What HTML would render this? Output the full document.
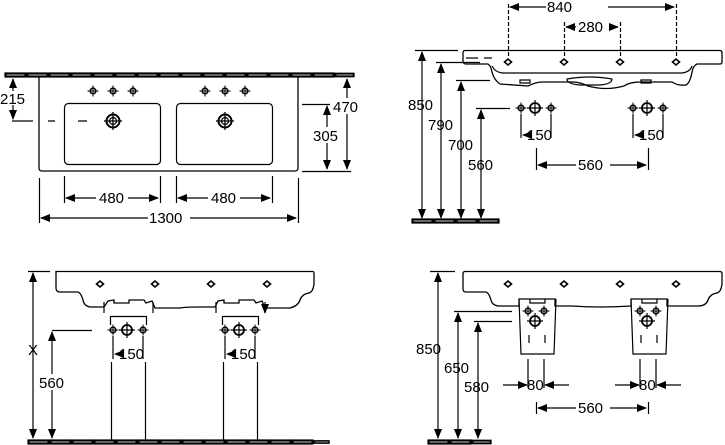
<!DOCTYPE html>
<html><head><meta charset="utf-8"><style>
html,body{margin:0;padding:0;background:#fff;}
svg{display:block;}
text{font-family:"Liberation Sans",Arial,sans-serif;font-size:15px;fill:#000;}
</style></head><body>
<svg width="725" height="445" viewBox="0 0 725 445" xmlns="http://www.w3.org/2000/svg">
<defs>
<marker id="a" markerUnits="userSpaceOnUse" markerWidth="10" markerHeight="8" refX="9" refY="4" orient="auto-start-reverse"><path d="M0,0 L10,4 L0,8 z" fill="#000"/></marker>
<symbol id="s" viewBox="-6 -6 12 12" overflow="visible"><circle r="2.8" fill="none" stroke="#000" stroke-width="1.6"/><path d="M-5.5,0H5.5M0,-5.5V5.5" stroke="#000" stroke-width="1"/></symbol>
<symbol id="b" viewBox="-8 -8 16 16" overflow="visible"><circle r="5" fill="none" stroke="#000" stroke-width="1.8"/><path d="M-8,0H8M0,-8V8" stroke="#000" stroke-width="1.2"/></symbol>
<symbol id="d" viewBox="-9 -9 18 18" overflow="visible"><circle r="6.5" fill="none" stroke="#000" stroke-width="2"/><circle r="3.5" fill="none" stroke="#000" stroke-width="1.2"/><path d="M-9,0H9M0,-9V9" stroke="#000" stroke-width="1.3"/></symbol>
<symbol id="h" viewBox="-4 -4 8 8" overflow="visible"><path d="M-3.5,0L0,-3L3.5,0L0,3z" fill="none" stroke="#000" stroke-width="1.6"/></symbol>
<symbol id="fl" viewBox="0 0 22 4" overflow="visible"><rect x="0" y="0" width="21" height="4" fill="#000"/><rect x="1" y="1" width="19" height="2" fill="#fff"/></symbol>
</defs>
<g stroke="#000" fill="none" stroke-width="1.2">
<!-- ============ TOP LEFT ============ -->
<g>
<use href="#fl" x="5" y="73" width="22" height="4"/><use href="#fl" x="27" y="73" width="22" height="4"/><use href="#fl" x="49" y="73" width="22" height="4"/><use href="#fl" x="71" y="73" width="22" height="4"/><use href="#fl" x="93" y="73" width="22" height="4"/><use href="#fl" x="115" y="73" width="22" height="4"/><use href="#fl" x="137" y="73" width="22" height="4"/><use href="#fl" x="159" y="73" width="22" height="4"/><use href="#fl" x="181" y="73" width="22" height="4"/><use href="#fl" x="203" y="73" width="22" height="4"/><use href="#fl" x="225" y="73" width="22" height="4"/><use href="#fl" x="247" y="73" width="22" height="4"/><use href="#fl" x="269" y="73" width="22" height="4"/><use href="#fl" x="291" y="73" width="22" height="4"/><use href="#fl" x="313" y="73" width="22" height="4"/><use href="#fl" x="335" y="73" width="20" height="4"/>
</g>
<path d="M39,77 V168 Q39,171 42,171 H295 Q298,171 298,168 V77" stroke-width="1.3"/>
<rect x="64.5" y="103.5" width="96" height="61" rx="4"/>
<rect x="176.5" y="103.5" width="96" height="61" rx="4"/>
<use href="#s" x="87" y="85" width="12" height="12"/><use href="#s" x="107" y="85" width="12" height="12"/><use href="#s" x="127" y="85" width="12" height="12"/>
<use href="#s" x="199" y="85" width="12" height="12"/><use href="#s" x="219" y="85" width="12" height="12"/><use href="#s" x="239" y="85" width="12" height="12"/>
<use href="#d" x="104" y="112" width="18" height="18"/><use href="#d" x="216" y="112" width="18" height="18"/>
<path d="M13,79 V119" marker-start="url(#a)" marker-end="url(#a)"/>
<path d="M12,121H33M48,121H55M78,121H87"/>
<path d="M302,104.5H330M302,171.5H351"/>
<path d="M327,106V169" marker-start="url(#a)" marker-end="url(#a)"/>
<path d="M347,79V169" marker-start="url(#a)" marker-end="url(#a)"/>
<path d="M64.5,176V203M160.5,176V203M176.5,176V203M272.5,176V203M39.5,178V223M298.5,178V223"/>
<path d="M66,198H96" marker-start="url(#a)"/><path d="M128,198H158" marker-end="url(#a)"/>
<path d="M178,198H208" marker-start="url(#a)"/><path d="M240,198H270" marker-end="url(#a)"/>
<path d="M41,218H148" marker-start="url(#a)"/><path d="M190,218H296" marker-end="url(#a)"/>

<!-- ============ TOP RIGHT ============ -->
<path d="M510,7H546" marker-start="url(#a)"/><path d="M608,7H674" marker-end="url(#a)"/>
<path d="M566,27H576" marker-start="url(#a)"/><path d="M612,27H618" marker-end="url(#a)"/>
<path d="M508.5,4V58M676.5,4V58M564.5,22V58M620.5,22V58" stroke-dasharray="4,2"/>
<path d="M465,50.5H720Q722,50.5 722,53V62Q722,64 720,64H697 Q693,66 692,72 Q690,83 686,85 Q678,86 672,82 H640 Q630,82 624,86 Q606,91 588,86 Q580,82 572,82 H542 Q536,82 528,86 L500,84 Q494,80 492,72 Q491,66 488,64 H466 Q463,64 463,61 V53 Q463,50.5 465,50.5z" stroke-width="1.3"/>
<path d="M492,66 Q495,72 502,73 H682 Q690,72 692,66"/>
<path d="M567,79 Q590,75 612,79 Q612,84 600,85 H580 Q567,84 567,79z"/>
<path d="M520,80h10v3h-10zM641,80h10v3h-10zM466,58h12M484,58h8"/>
<use href="#h" x="504" y="58" width="8" height="8"/><use href="#h" x="560" y="58" width="8" height="8"/><use href="#h" x="616" y="58" width="8" height="8"/><use href="#h" x="672" y="58" width="8" height="8"/>
<use href="#fl" x="412" y="219" width="22" height="4"/><use href="#fl" x="434" y="219" width="22" height="4"/><use href="#fl" x="456" y="219" width="22" height="4"/><use href="#fl" x="478" y="219" width="22" height="4"/>
<path d="M415,50.5H458M436,62.5H480M456,80.5H490M476,108.5H510"/>
<path d="M422,52V218" marker-start="url(#a)" marker-end="url(#a)"/>
<path d="M441,64V218" marker-start="url(#a)" marker-end="url(#a)"/>
<path d="M461,82V218" marker-start="url(#a)" marker-end="url(#a)"/>
<path d="M481,110V218" marker-start="url(#a)" marker-end="url(#a)"/>
<use href="#s" x="515" y="102" width="12" height="12"/><use href="#b" x="527" y="100" width="16" height="16"/><use href="#s" x="545" y="102" width="12" height="12"/>
<use href="#s" x="627" y="102" width="12" height="12"/><use href="#b" x="639" y="100" width="16" height="16"/><use href="#s" x="657" y="102" width="12" height="12"/>
<path d="M521,114V138M551,114V138M633,114V138M663,114V138"/>
<path d="M523,135H528" marker-start="url(#a)"/><path d="M635,135H640" marker-start="url(#a)"/>
<path d="M536.5,148V170M648.5,148V170"/>
<path d="M538,165H576" marker-start="url(#a)"/><path d="M610,165H646" marker-end="url(#a)"/>

<!-- ============ BOTTOM LEFT ============ -->
<path d="M56,271.5H313Q314,271.5 314,274V284Q313,292 309,293 Q302,294 300,300 Q298,306 290,308 H265 L262,301 L256,303 L254,300 H239 V303 H224 V300 L218,301 L215,307 H198 Q185,307 180,308 H155 L152,301 L146,303 L144,300 H129 V303 H114 V300 L108,301 L104,307 H90 Q84,306 83,300 Q81,293 78,292 H60 Q56,292 56,288z" stroke-width="1.3"/>
<use href="#h" x="96" y="280" width="8" height="8"/><use href="#h" x="151" y="280" width="8" height="8"/><use href="#h" x="207" y="280" width="8" height="8"/><use href="#h" x="263" y="280" width="8" height="8"/>
<path d="M104,302V313M153,302V313M216,302V313M265,302V313" marker-end="url(#a)"/>
<path d="M110.5,325V316.5H146.5V325M222.5,325V316.5H258.5V325"/>
<use href="#s" x="107" y="324" width="12" height="12"/><use href="#b" x="119" y="322" width="16" height="16"/><use href="#s" x="137" y="324" width="12" height="12"/>
<use href="#s" x="219" y="324" width="12" height="12"/><use href="#b" x="231" y="322" width="16" height="16"/><use href="#s" x="249" y="324" width="12" height="12"/>
<path d="M113,336V359M143,336V359M225,336V359M255,336V359"/>
<path d="M115,354H120" marker-start="url(#a)"/><path d="M227,354H232" marker-start="url(#a)"/>
<path d="M111.5,362V440M145.5,362V440M223.5,362V440M257.5,362V440"/>
<path d="M28,271.5H50M52,330.5H92"/>
<path d="M33,273V438" marker-start="url(#a)" marker-end="url(#a)"/>
<path d="M52,332V438" marker-start="url(#a)" marker-end="url(#a)"/>
<g><use href="#fl" x="28" y="440" width="22" height="4"/><use href="#fl" x="50" y="440" width="22" height="4"/><use href="#fl" x="72" y="440" width="22" height="4"/><use href="#fl" x="94" y="440" width="22" height="4"/><use href="#fl" x="116" y="440" width="22" height="4"/><use href="#fl" x="138" y="440" width="22" height="4"/><use href="#fl" x="160" y="440" width="22" height="4"/><use href="#fl" x="182" y="440" width="22" height="4"/><use href="#fl" x="204" y="440" width="22" height="4"/><use href="#fl" x="226" y="440" width="22" height="4"/><use href="#fl" x="248" y="440" width="22" height="4"/><use href="#fl" x="270" y="440" width="22" height="4"/><use href="#fl" x="292" y="440" width="22" height="4"/><use href="#fl" x="314" y="440" width="16" height="4"/></g>

<!-- ============ BOTTOM RIGHT ============ -->
<path d="M465,271.5H720Q722,271.5 722,274V284Q721,292 717,293 Q710,294 708,300 Q706,306 698,306 H667 V299 H631 V306 Q600,308 572,306 H555 V299 H519 V306 H498 Q492,305 491,300 Q489,293 486,292 H466 Q463,292 463,289 V274 Q463,271.5 465,271.5z" stroke-width="1.3"/>
<use href="#h" x="504" y="280" width="8" height="8"/><use href="#h" x="560" y="280" width="8" height="8"/><use href="#h" x="616" y="280" width="8" height="8"/><use href="#h" x="672" y="280" width="8" height="8"/>
<path d="M519,299 L521,354 H554 L556,299M631,299 L633,354 H666 L668,299"/>
<path d="M530,299V303H545V299M642,299V303H657V299"/>
<use href="#s" x="522" y="305" width="12" height="12"/><use href="#s" x="538" y="305" width="12" height="12"/><use href="#b" x="527" y="313" width="16" height="16"/>
<use href="#s" x="634" y="305" width="12" height="12"/><use href="#s" x="650" y="305" width="12" height="12"/><use href="#b" x="639" y="313" width="16" height="16"/>
<path d="M529,335V343M545,335V343M641,335V343M657,335V343"/>
<path d="M528,359V388M544,359V388M640,359V388M656,359V388"/>
<path d="M503,385H527" marker-end="url(#a)"/>
<path d="M569,385H545" marker-end="url(#a)"/>
<path d="M615,385H639" marker-end="url(#a)"/>
<path d="M681,385H657" marker-end="url(#a)"/>
<path d="M536.5,402V414M648.5,402V414"/>
<path d="M538,408H576" marker-start="url(#a)"/><path d="M610,408H646" marker-end="url(#a)"/>
<path d="M430,271.5H455M454,311.5H512M474,321.5H512"/>
<path d="M438,273V438" marker-start="url(#a)" marker-end="url(#a)"/>
<path d="M458,313V438" marker-start="url(#a)" marker-end="url(#a)"/>
<path d="M478,323V438" marker-start="url(#a)" marker-end="url(#a)"/>
<use href="#fl" x="428" y="440" width="22" height="4"/><use href="#fl" x="450" y="440" width="22" height="4"/><use href="#fl" x="472" y="440" width="20" height="4"/>
</g>
<g>
<rect x="1" y="91" width="26" height="14" fill="#fff"/><text x="0" y="104">215</text>
<rect x="332" y="98" width="32" height="16" fill="#fff"/><text x="333" y="112">470</text>
<rect x="312" y="127" width="30" height="16" fill="#fff"/><text x="313" y="141">305</text>
<text x="99" y="203">480</text><text x="211" y="203">480</text>
<text x="149" y="223">1300</text>
<text x="547" y="12">840</text><text x="578" y="32">280</text>
<text x="408" y="110">850</text><text x="428" y="130">790</text><text x="448" y="150">700</text><text x="468" y="170">560</text>
<text x="527" y="140">150</text><text x="639" y="140">150</text>
<text x="578" y="170">560</text>
<text x="28" y="355">X</text>
<rect x="38" y="374" width="30" height="16" fill="#fff"/><text x="39" y="388">560</text>
<text x="119" y="359">150</text><text x="231" y="359">150</text>
<text x="416" y="354">850</text><text x="444" y="373">650</text><text x="464" y="392">580</text>
<text x="527" y="390">80</text><text x="639" y="390">80</text>
<text x="578" y="413">560</text>
</g>
</svg>
</body></html>
